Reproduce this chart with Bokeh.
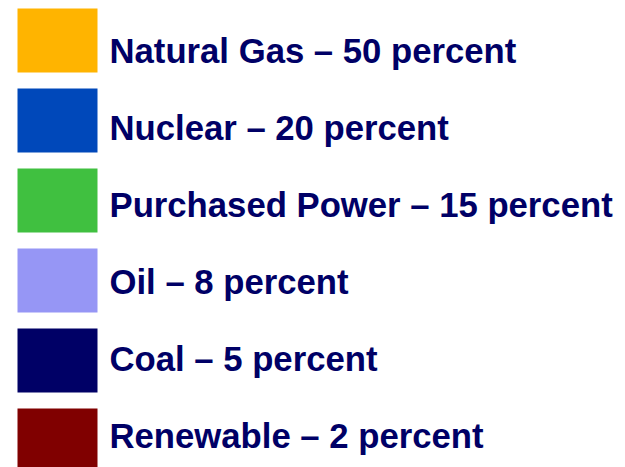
from bokeh.plotting import figure
from bokeh.models import Range1d, ColumnDataSource
from bokeh.core.properties import value
from bokeh.embed import file_html
from bokeh.resources import INLINE

sources = ["Natural Gas", "Nuclear", "Purchased Power", "Oil", "Coal", "Renewable"]
percents = [50, 20, 15, 8, 5, 2]
colors = ["#FFB400", "#0048BA", "#40C040", "#9696F5", "#000066", "#800000"]

labels = [f"{s} \u2013 {v} percent" for s, v in zip(sources, percents)]
n = len(sources)
tops = [8 + 80 * i for i in range(n)]
text_mid = [50.5 + 77 * i for i in range(n)]

src = ColumnDataSource(dict(
    left=[17] * n, right=[97] * n,
    top=tops, bottom=[min(t + 64, 467) for t in tops],
    tx=[109] * n, ty=text_mid,
    label=labels, color=colors,
))

p = figure(width=625, height=467, output_backend="svg", toolbar_location=None,
           x_range=Range1d(0, 625), y_range=Range1d(467, 0), min_border=0)
p.axis.visible = False
p.grid.visible = False
p.outline_line_color = None
p.background_fill_color = "white"

p.quad(left="left", right="right", top="top", bottom="bottom", fill_color="color",
       line_color=None, source=src)
p.text(x="tx", y="ty", text="label", source=src, text_font=value("Liberation Sans"),
       text_font_style="bold", text_font_size="34.7px", text_color="#000066",
       text_baseline="middle", text_align="left")

open("out.html", "w").write(file_html(p, INLINE))
